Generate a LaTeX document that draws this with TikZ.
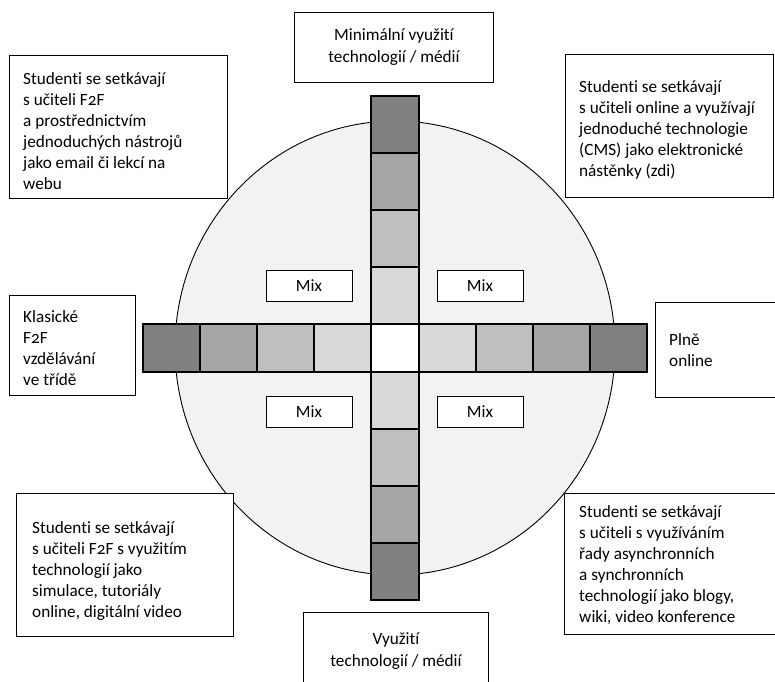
\documentclass[tikz,border=0pt]{standalone}
\usepackage{fontspec}
\setmainfont{Carlito}[Numbers=OldStyle, Ligatures=NoCommon]
\usetikzlibrary{calc}

\definecolor{discfill}{HTML}{F2F2F2}
\definecolor{shadeA}{HTML}{808080}
\definecolor{shadeB}{HTML}{A6A6A6}
\definecolor{shadeC}{HTML}{BFBFBF}
\definecolor{shadeD}{HTML}{D9D9D9}

\tikzset{
  box/.style={draw=black, line width=0.9pt, fill=white, rectangle, inner sep=0pt, anchor=north west},
  txt/.style={inner sep=0pt, anchor=north west, align=left,
    font=\fontsize{17.2}{21}\selectfont},
  ctxt/.style={font=\fontsize{17.2}{22}\selectfont, align=center},
  cell/.style={draw=black, line width=1.1pt, rectangle, inner sep=0pt},
  hcell/.style={cell, minimum width=57pt, minimum height=48pt},
  vcell/.style={cell, minimum width=48pt, minimum height=57pt},
  mixbox/.style={draw=black, line width=0.9pt, fill=white, minimum width=86pt,
    minimum height=31pt, inner sep=0pt, font=\fontsize{17.2}{21}\selectfont},
}

\begin{document}
\begin{tikzpicture}[x=1pt, y=-1pt]
\useasboundingbox (0,0) rectangle (775,681);
\clip (0,0) rectangle (775,681);

% background disc
\draw[fill=discfill, line width=0.9pt] (395,348) ellipse [x radius=220, y radius=227];

% horizontal bar: classroom (left) to fully online (right), darker towards the ends
\foreach \i/\c in {1/shadeD,2/shadeC,3/shadeB,4/shadeA}{
  \node[hcell, fill=\c] (hl\i) at ({371-57*(\i-0.5)},348) {};
  \node[hcell, fill=\c] (hr\i) at ({419+57*(\i-0.5)},348) {};
}
% vertical bar: minimal use (top) to heavy use (bottom) of technology
\foreach \i/\c in {1/shadeD,2/shadeC,3/shadeB,4/shadeA}{
  \node[vcell, fill=\c] (vt\i) at (395,{324-57*(\i-0.5)}) {};
  \node[vcell, fill=\c] (vb\i) at (395,{372+57*(\i-0.5)}) {};
}
\node[cell, fill=white, minimum width=48pt, minimum height=48pt] (mid) at (395,348) {};

% quadrant labels
\node[mixbox] (mixtl) at (309,285.5) {Mix};
\node[mixbox] (mixtr) at (480,285.5) {Mix};
\node[mixbox] (mixbl) at (309,412) {Mix};
\node[mixbox] (mixbr) at (480,412) {Mix};

% axis ends
\node[box, minimum width=199pt, minimum height=70pt] (top) at (294,12) {};
\node[ctxt] at (top.center) {Minimální využití\\technologií / médií};

\node[box, minimum width=185pt, minimum height=100pt] (bottom) at (303,612) {};
\node[ctxt, anchor=north] at ($(bottom.north)+(0,17)$) {Využití\\technologií / médií};

\node[box, minimum width=126pt, minimum height=100pt] (left) at (9,295) {};
\node[txt] at ($(left.north west)+(14,15)$) {Klasické\\F2F\\vzdělávání\\ve třídě};

\node[box, minimum width=130pt, minimum height=95pt] (right) at (655,302) {};
\node[txt] at ($(right.north west)+(14,31)$) {Plně\\online};

% corner descriptions
\node[box, minimum width=218pt, minimum height=143pt] (tl) at (9,55) {};
\node[txt] at ($(tl.north west)+(14,17)$) {Studenti se setkávají\\s učiteli F2F\\a prostřednictvím\\jednoduchých nástrojů\\jako email či lekcí na\\webu};

\node[box, minimum width=208pt, minimum height=143pt] (tr) at (565,54) {};
\node[txt] at ($(tr.north west)+(14,26)$) {Studenti se setkávají\\s učiteli online a využívají\\jednoduché technologie\\(CMS) jako elektronické\\nástěnky (zdi)};

\node[box, minimum width=217pt, minimum height=143pt] (bl) at (16,493) {};
\node[txt] at ($(bl.north west)+(16,28)$) {Studenti se setkávají\\s učiteli F2F s využitím\\technologií jako\\simulace, tutoriály\\online, digitální video};

\node[box, minimum width=215pt, minimum height=141pt] (br) at (564,493) {};
\node[txt] at ($(br.north west)+(15,12)$) {Studenti se setkávají\\s učiteli s využíváním\\řady asynchronních\\a synchronních\\technologií jako blogy,\\wiki, video konference};
\end{tikzpicture}
\end{document}
